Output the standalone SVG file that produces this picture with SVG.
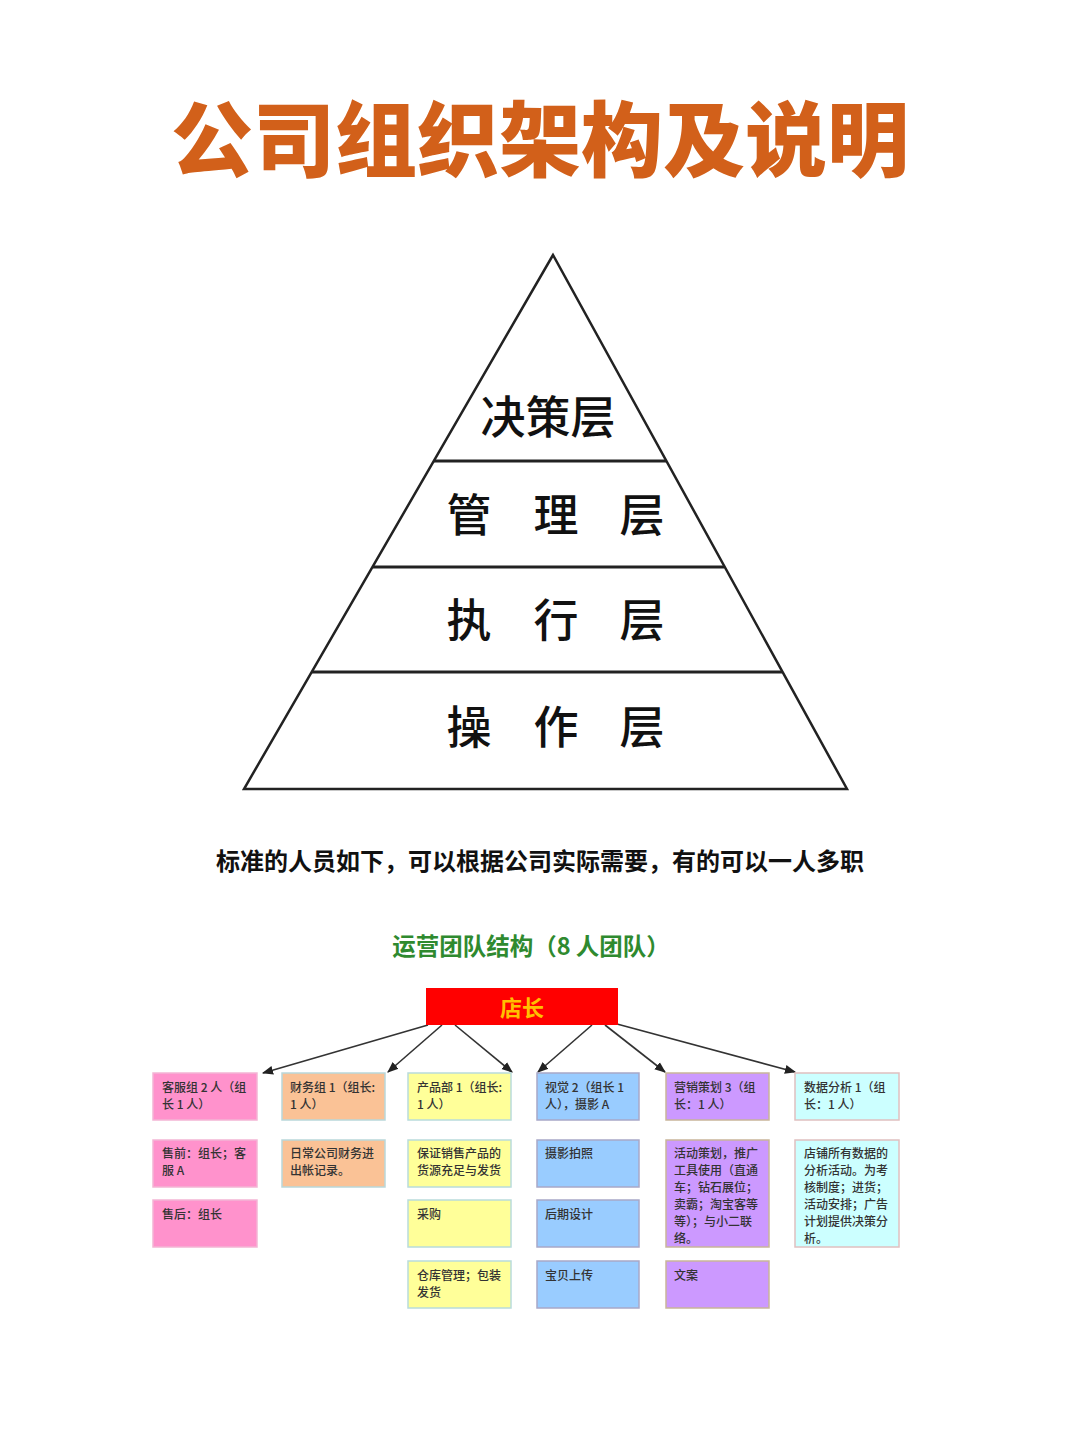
<svg xmlns="http://www.w3.org/2000/svg" width="1080" height="1440" viewBox="0 0 1080 1440">
<defs>
<style>
.cjk{font-family:"Noto Sans CJK SC","Noto Sans",sans-serif}
.title{font-size:82px;font-weight:900;fill:#D2601A}
.layer{font-size:45px;font-weight:500;fill:#111}
.sub{font-size:24px;font-weight:700;fill:#111}
.green{font-size:23.5px;font-weight:700;fill:#2F8A2F}
.bt{font-size:12px;fill:#333;font-weight:500}
.box{stroke-width:1.5}
.pk{fill:#FF92CC;stroke:#F3B5D5}
.or{fill:#FAC296;stroke:#B9D7DA}
.ye{fill:#FFFF99;stroke:#B9DCDC}
.bl{fill:#99CCFF;stroke:#A8A8C8}
.pu{fill:#CC99FF;stroke:#C9B59A}
.cy{fill:#CCFFFF;stroke:#E0C0C0}
.conn{stroke:#333;stroke-width:1.6;fill:none}
</style>
<marker id="ah" viewBox="0 0 10 10" refX="9" refY="5" markerWidth="7" markerHeight="7" orient="auto">
<path d="M0,1 L10,5 L0,9 z" fill="#222"/>
</marker>
</defs>
<rect width="1080" height="1440" fill="#fff"/>
<text class="cjk title" x="540" y="170" text-anchor="middle">公司组织架构及说明</text>

<g id="pyramid">
<polygon points="553,255 244,789 847,789" fill="none" stroke="#222" stroke-width="2.5" stroke-linejoin="miter"/>
<line x1="434" y1="461" x2="666" y2="461" stroke="#222" stroke-width="3"/>
<line x1="373" y1="567" x2="724" y2="567" stroke="#222" stroke-width="3"/>
<line x1="312" y1="672" x2="782" y2="672" stroke="#222" stroke-width="3"/>
<text class="cjk layer" x="548" y="434" text-anchor="middle">决策层</text>
<text class="cjk layer" x="469" y="532" text-anchor="middle">管</text>
<text class="cjk layer" x="556" y="532" text-anchor="middle">理</text>
<text class="cjk layer" x="642" y="532" text-anchor="middle">层</text>
<text class="cjk layer" x="469" y="637" text-anchor="middle">执</text>
<text class="cjk layer" x="556" y="637" text-anchor="middle">行</text>
<text class="cjk layer" x="642" y="637" text-anchor="middle">层</text>
<text class="cjk layer" x="469" y="744" text-anchor="middle">操</text>
<text class="cjk layer" x="556" y="744" text-anchor="middle">作</text>
<text class="cjk layer" x="642" y="744" text-anchor="middle">层</text>
</g>

<text class="cjk sub" x="540" y="870" text-anchor="middle">标准的人员如下，可以根据公司实际需要，有的可以一人多职</text>
<text class="cjk green" x="531" y="955" text-anchor="middle">运营团队结构（8 人团队）</text>

<g id="connectors">
<line class="conn" x1="428" y1="1025" x2="263" y2="1073" marker-end="url(#ah)"/>
<line class="conn" x1="442" y1="1025" x2="388" y2="1072" marker-end="url(#ah)"/>
<line class="conn" x1="455" y1="1025" x2="512" y2="1072" marker-end="url(#ah)"/>
<line class="conn" x1="592" y1="1025" x2="538" y2="1072" marker-end="url(#ah)"/>
<line class="conn" x1="605" y1="1025" x2="665" y2="1072" marker-end="url(#ah)"/>
<line class="conn" x1="617" y1="1024" x2="795" y2="1072" marker-end="url(#ah)"/>
</g>

<g id="dianzhang">
<rect x="426" y="988" width="192" height="37" fill="#FF0000"/>
<text class="cjk" x="522" y="1016" text-anchor="middle" font-size="22" font-weight="700" fill="#FFC000">店长</text>
</g>

<g id="kefu"><rect class="box pk" x="153" y="1073" width="104" height="47"/>
<text class="cjk bt" x="162" y="1092">客服组 2 人（组</text><text class="cjk bt" x="162" y="1109">长 1 人）</text></g>
<g id="caiwu"><rect class="box or" x="282" y="1073" width="103" height="47"/>
<text class="cjk bt" x="290" y="1092">财务组 1（组长:</text><text class="cjk bt" x="290" y="1109">1 人）</text></g>
<g id="chanpin"><rect class="box ye" x="408" y="1073" width="103" height="47"/>
<text class="cjk bt" x="417" y="1092">产品部 1（组长:</text><text class="cjk bt" x="417" y="1109">1 人）</text></g>
<g id="shijue"><rect class="box bl" x="537" y="1073" width="102" height="47"/>
<text class="cjk bt" x="545" y="1092">视觉 2（组长 1</text><text class="cjk bt" x="545" y="1109">人），摄影 A</text></g>
<g id="yingxiao"><rect class="box pu" x="666" y="1073" width="103" height="47"/>
<text class="cjk bt" x="674" y="1092">营销策划 3（组</text><text class="cjk bt" x="674" y="1109">长：1 人）</text></g>
<g id="shuju"><rect class="box cy" x="795" y="1073" width="104" height="47"/>
<text class="cjk bt" x="804" y="1092">数据分析 1（组</text><text class="cjk bt" x="804" y="1109">长：1 人）</text></g>

<g id="shouqian"><rect class="box pk" x="153" y="1140" width="104" height="47"/>
<text class="cjk bt" x="162" y="1158">售前：组长；客</text><text class="cjk bt" x="162" y="1175">服 A</text></g>
<g id="shouhou"><rect class="box pk" x="153" y="1200" width="104" height="47"/>
<text class="cjk bt" x="162" y="1219">售后：组长</text></g>
<g id="richang"><rect class="box or" x="282" y="1140" width="103" height="47"/>
<text class="cjk bt" x="290" y="1158">日常公司财务进</text><text class="cjk bt" x="290" y="1175">出帐记录。</text></g>
<g id="baozheng"><rect class="box ye" x="408" y="1140" width="103" height="47"/>
<text class="cjk bt" x="417" y="1158">保证销售产品的</text><text class="cjk bt" x="417" y="1175">货源充足与发货</text></g>
<g id="caigou"><rect class="box ye" x="408" y="1200" width="103" height="47"/>
<text class="cjk bt" x="417" y="1219">采购</text></g>
<g id="cangku"><rect class="box ye" x="408" y="1261" width="103" height="47"/>
<text class="cjk bt" x="417" y="1280">仓库管理；包装</text><text class="cjk bt" x="417" y="1297">发货</text></g>
<g id="sheying"><rect class="box bl" x="537" y="1140" width="102" height="47"/>
<text class="cjk bt" x="545" y="1158">摄影拍照</text></g>
<g id="houqi"><rect class="box bl" x="537" y="1200" width="102" height="47"/>
<text class="cjk bt" x="545" y="1219">后期设计</text></g>
<g id="baobei"><rect class="box bl" x="537" y="1261" width="102" height="47"/>
<text class="cjk bt" x="545" y="1280">宝贝上传</text></g>
<g id="huodong"><rect class="box pu" x="666" y="1140" width="103" height="107"/>
<text class="cjk bt" x="674" y="1158">活动策划，推广</text><text class="cjk bt" x="674" y="1175">工具使用（直通</text><text class="cjk bt" x="674" y="1192">车；钻石展位；</text><text class="cjk bt" x="674" y="1209">卖霸；淘宝客等</text><text class="cjk bt" x="674" y="1226">等）；与小二联</text><text class="cjk bt" x="674" y="1243">络。</text></g>
<g id="wenan"><rect class="box pu" x="666" y="1261" width="103" height="47"/>
<text class="cjk bt" x="674" y="1280">文案</text></g>
<g id="dianpu"><rect class="box cy" x="795" y="1140" width="104" height="107"/>
<text class="cjk bt" x="804" y="1158">店铺所有数据的</text><text class="cjk bt" x="804" y="1175">分析活动。为考</text><text class="cjk bt" x="804" y="1192">核制度；进货；</text><text class="cjk bt" x="804" y="1209">活动安排；广告</text><text class="cjk bt" x="804" y="1226">计划提供决策分</text><text class="cjk bt" x="804" y="1243">析。</text></g>
</svg>
